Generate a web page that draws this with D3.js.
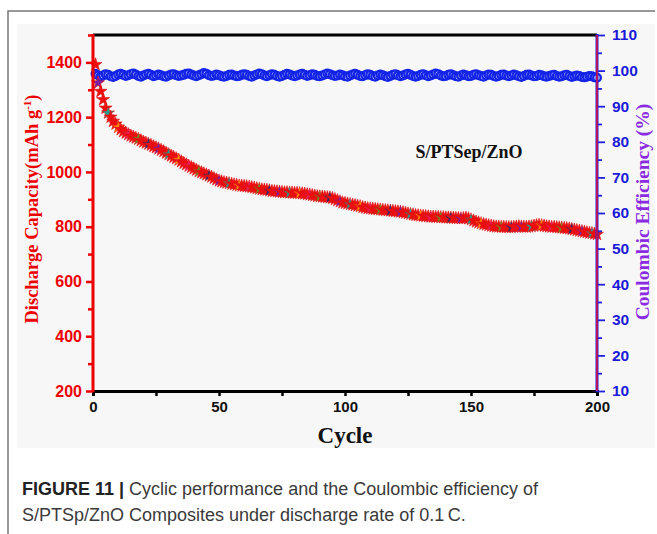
<!DOCTYPE html>
<html>
<head>
<meta charset="utf-8">
<script src="https://cdn.jsdelivr.net/npm/d3@7"></script>
<style>
  body { margin: 0; background: #fff; }
  svg { display: block; }
</style>
</head>
<body>
<svg width="657" height="534"></svg>
<script>
// discharge capacity (mAh g-1), one value per cycle 1..200
var capacity = [
  1392, 1325, 1294, 1264, 1233, 1215, 1200, 1185, 1175, 1163,
  1155, 1148, 1142, 1137, 1132, 1128, 1124, 1120, 1115, 1110,
  1106, 1102, 1098, 1093, 1089, 1085, 1080, 1075, 1069, 1064,
  1059, 1054, 1049, 1044, 1038, 1032, 1027, 1022, 1017, 1012,
  1007, 1002, 998, 994, 990, 986, 982, 977, 972, 968,
  965, 962, 960, 958, 956, 954, 952, 950, 949, 948,
  947, 946, 944, 942, 940, 938, 936, 935, 934, 932,
  930, 929, 928, 927, 926, 925, 925, 924, 924, 923,
  923, 922, 921, 920, 918, 917, 915, 913, 911, 910,
  909, 908, 907, 906, 904, 900, 896, 892, 888, 886,
  884, 882, 880, 878, 876, 874, 871, 869, 867, 866,
  865, 864, 863, 862, 861, 860, 859, 858, 857, 856,
  855, 854, 852, 850, 848, 846, 844, 842, 841, 840,
  839, 838, 837, 836, 836, 835, 835, 834, 834, 833,
  833, 832, 832, 831, 831, 830, 831, 832, 830, 826,
  822, 818, 815, 812, 809, 807, 805, 803, 801, 800,
  800, 799, 799, 798, 798, 798, 799, 800, 801, 800,
  799, 799, 800, 801, 803, 805, 806, 805, 803, 801,
  800, 799, 799, 798, 797, 796, 795, 794, 793, 791,
  789, 787, 785, 783, 781, 779, 777, 776, 774, 772
];

// coulombic efficiency (%), cycles 1..200
var efficiency = [
  99.1, 98.7, 98.3, 98.6, 99.0, 98.8, 98.4, 98.2, 98.5, 98.9,
  99.1, 98.8, 98.5, 98.7, 99.0, 99.2, 98.9, 98.5, 98.3, 98.6,
  98.9, 99.1, 98.8, 98.4, 98.6, 98.9, 98.7, 98.4, 98.3, 98.6,
  98.9, 99.0, 98.7, 98.5, 98.6, 98.8, 99.1, 99.2, 98.9, 98.6,
  98.4, 98.7, 99.0, 99.3, 99.1, 98.7, 98.5, 98.6, 98.9, 98.7,
  98.4, 98.3, 98.5, 98.8, 98.9, 98.6, 98.4, 98.5, 98.8, 99.0,
  98.8, 98.5, 98.3, 98.6, 98.9, 99.2, 99.0, 98.6, 98.4, 98.7,
  99.0, 98.8, 98.5, 98.3, 98.5, 98.8, 99.1, 98.9, 98.6, 98.4,
  98.6, 98.9, 99.1, 98.8, 98.5, 98.7, 99.0, 98.8, 98.5, 98.4,
  98.6, 98.9, 99.2, 99.0, 98.7, 98.5, 98.6, 98.9, 98.7, 98.4,
  98.3, 98.6, 98.9, 99.1, 98.8, 98.5, 98.4, 98.7, 99.0, 98.8,
  98.5, 98.3, 98.6, 98.9, 98.7, 98.4, 98.2, 98.5, 98.8, 99.0,
  98.7, 98.4, 98.6, 98.9, 99.1, 98.8, 98.5, 98.3, 98.5, 98.8,
  99.0, 98.7, 98.4, 98.6, 98.9, 99.2, 99.0, 98.6, 98.4, 98.5,
  98.8, 99.0, 98.7, 98.4, 98.3, 98.6, 98.9, 98.7, 98.4, 98.5,
  98.8, 99.0, 98.7, 98.5, 98.3, 98.6, 98.9, 98.8, 98.5, 98.3,
  98.5, 98.8, 98.9, 98.6, 98.4, 98.6, 98.9, 98.7, 98.4, 98.2,
  98.5, 98.8, 98.9, 98.6, 98.4, 98.5, 98.8, 98.7, 98.4, 98.3,
  98.5, 98.7, 98.8, 98.5, 98.3, 98.4, 98.7, 98.8, 98.5, 98.2,
  98.4, 98.6, 98.5, 98.2, 98.1, 98.3, 98.5, 98.4, 98.1, 98.0
];

var xTicks = [0, 50, 100, 150, 200];
var leftTicks = [200, 400, 600, 800, 1000, 1200, 1400];
var rightTicks = [10, 20, 30, 40, 50, 60, 70, 80, 90, 100, 110];
var starColors = ["#7b1fa2", "#1f9e8f", "#ff8c00", "#e91e63", "#6b8e23", "#2b2b6b"];

var cycles = d3.range(1, capacity.length + 1);

var svg = d3.select("svg");
var sansBold = "'Liberation Sans', Arial, sans-serif";
var serif = "'Liberation Serif', 'Times New Roman', serif";

var plot = { left: 93, right: 597, top: 35, bottom: 391 };

// outer page frame + light panel
svg.append("rect").attr("x", 17).attr("y", 24).attr("width", 638).attr("height", 424)
    .attr("fill", "#f7f7f7");
svg.append("path").attr("d", "M8,534 V11 H655")
    .attr("fill", "none").attr("stroke", "#777").attr("stroke-width", 1.5);

var x = d3.scaleLinear().domain([0, 200]).range([plot.left, plot.right]);
var yL = d3.scaleLinear().domain([200, 1500]).range([plot.bottom, plot.top]);
var yR = d3.scaleLinear().domain([10, 110]).range([plot.bottom, plot.top]);

// efficiency markers
svg.append("g").selectAll("circle")
    .data(cycles).enter()
    .append("circle")
    .attr("cx", function (c) { return x(c); })
    .attr("cy", function (c) { return yR(efficiency[c - 1]); })
    .attr("r", 3.8)
    .attr("fill", "#dfe4ff")
    .attr("stroke", "#1424e6")
    .attr("stroke-width", 2.4);

// capacity stars
var star = d3.symbol().type(d3.symbolStar).size(52);
svg.append("g").selectAll("path")
    .data(cycles).enter()
    .append("path")
    .attr("d", star)
    .attr("transform", function (c) { return "translate(" + x(c) + "," + yL(capacity[c - 1]) + ")"; })
    .attr("fill", function (c) { return c % 4 === 2 ? starColors[(c >> 2) % starColors.length] : "#ee1010"; })
    .attr("stroke", "#e01010")
    .attr("stroke-width", 0.6);

// frame line top
svg.append("line").attr("x1", plot.left).attr("x2", plot.right).attr("y1", plot.top).attr("y2", plot.top)
    .attr("stroke", "#000").attr("stroke-width", 3);

// bottom axis
var xAxis = svg.append("g").attr("transform", "translate(0," + plot.bottom + ")")
    .call(d3.axisBottom(x).tickValues(d3.range(0, 201, 25)).tickSize(5)
        .tickFormat(function (d) { return xTicks.indexOf(d) >= 0 ? d : ""; }));
xAxis.select(".domain").attr("stroke", "#000").attr("stroke-width", 3);
xAxis.selectAll(".tick line").attr("stroke", "#000").attr("stroke-width", 2.5);
xAxis.selectAll("text").attr("font-family", sansBold).attr("font-weight", "bold")
    .attr("font-size", 15).attr("fill", "#111").attr("dy", "0.85em");

// left axis
var lAxis = svg.append("g").attr("transform", "translate(" + plot.left + ",0)")
    .call(d3.axisLeft(yL).tickValues(d3.range(200, 1501, 100)).tickSize(7)
        .tickFormat(function (d) { return leftTicks.indexOf(d) >= 0 ? d : ""; }));
lAxis.select(".domain").attr("stroke", "#ee0000").attr("stroke-width", 3).attr("d", "M0," + (plot.bottom + 1) + "V" + (plot.top - 1));
lAxis.selectAll(".tick line").attr("stroke", "#ee0000").attr("stroke-width", 2.5)
    .attr("x2", function (d) { return leftTicks.indexOf(d) >= 0 ? -7 : -5; });
lAxis.selectAll("text").attr("font-family", sansBold).attr("font-weight", "bold")
    .attr("font-size", 16).attr("fill", "#ee0000").attr("x", -11);

// right axis
var rAxis = svg.append("g").attr("transform", "translate(" + plot.right + ",0)")
    .call(d3.axisRight(yR).tickValues(d3.range(10, 111, 5)).tickSize(8)
        .tickFormat(function (d) { return rightTicks.indexOf(d) >= 0 ? d : ""; }));
rAxis.select(".domain").attr("stroke", "#2020e0").attr("stroke-width", 3).attr("d", "M0," + (plot.bottom + 1) + "V" + (plot.top - 1));
rAxis.append("line").attr("y1", plot.bottom).attr("y2", plot.top)
    .attr("stroke", "#e01030").attr("stroke-width", 1.5);
rAxis.selectAll(".tick line").attr("stroke", "#2020e0").attr("stroke-width", 1.8)
    .attr("x2", function (d) { return rightTicks.indexOf(d) >= 0 ? 8 : 5; });
rAxis.selectAll("text").attr("font-family", sansBold).attr("font-weight", "bold")
    .attr("font-size", 15.5).attr("fill", "#1a1ad8").attr("x", 15);

// axis titles
svg.append("text").attr("transform", "translate(38,209) rotate(-90)")
    .attr("text-anchor", "middle").attr("font-family", serif).attr("font-weight", "bold")
    .attr("font-size", 18.5).attr("fill", "#ee0000")
    .html("Discharge Capacity(mAh g<tspan dy='-7' font-size='11'>-1</tspan><tspan dy='7'>)</tspan>");

svg.append("text").attr("transform", "translate(649,212) rotate(-90)")
    .attr("text-anchor", "middle").attr("font-family", serif).attr("font-weight", "bold")
    .attr("font-size", 19.5).attr("fill", "#8a2be2")
    .text("Coulombic Efficiency (%)");

svg.append("text").attr("x", 345).attr("y", 443)
    .attr("text-anchor", "middle").attr("font-family", serif).attr("font-weight", "bold")
    .attr("font-size", 23).attr("fill", "#111")
    .text("Cycle");

svg.append("text").attr("x", 469).attr("y", 158)
    .attr("text-anchor", "middle").attr("font-family", serif).attr("font-weight", "bold")
    .attr("font-size", 18).attr("fill", "#111")
    .text("S/PTSep/ZnO");

// caption
var cap = svg.append("g").attr("font-family", "'Liberation Sans', Arial, sans-serif")
    .attr("font-size", 18).attr("fill", "#3a3a3a");
var l1 = cap.append("text").attr("x", 22).attr("y", 495);
l1.append("tspan").attr("font-weight", "bold").attr("fill", "#222").text("FIGURE 11 | ");
l1.append("tspan").text("Cyclic performance and the Coulombic efficiency of");
cap.append("text").attr("x", 22).attr("y", 521)
    .text("S/PTSp/ZnO Composites under discharge rate of 0.1\u2009C.");
</script>
</body>
</html>
